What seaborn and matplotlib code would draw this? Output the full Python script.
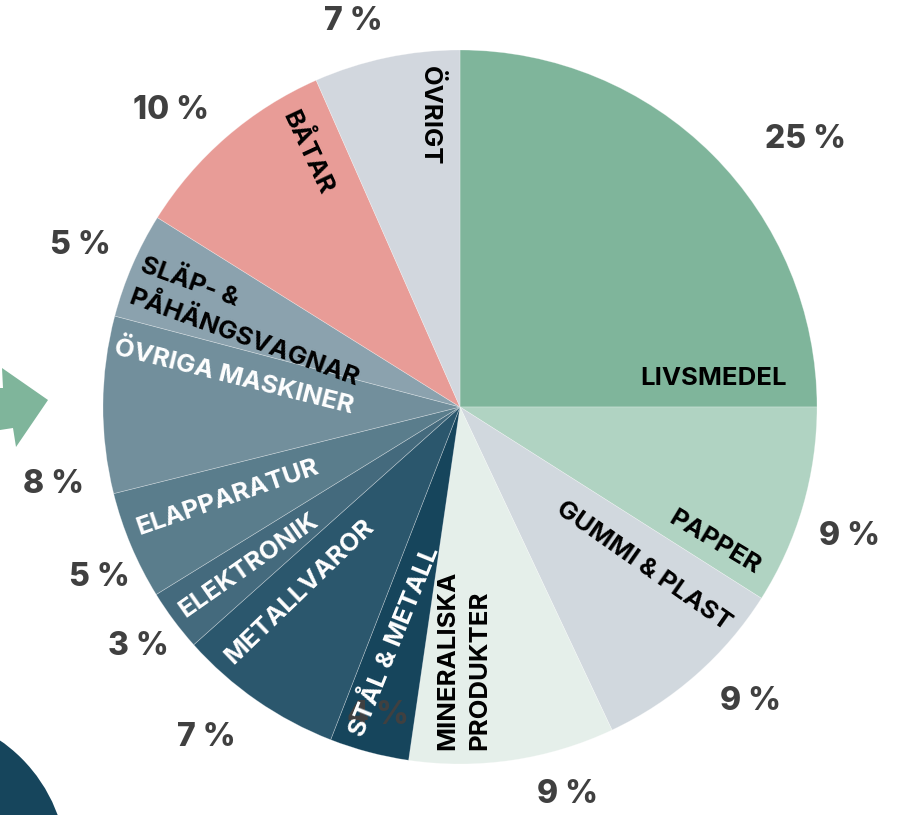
import numpy as np
import matplotlib.pyplot as plt
import matplotlib.patches as mpatches
import seaborn as sns

# data (share of total, in %)
branches = ['LIVSMEDEL', 'PAPPER', 'GUMMI & PLAST', 'MINERALISKA\nPRODUKTER',
            'STÅL & METALL', 'METALLVAROR', 'ELEKTRONIK', 'ELAPPARATUR',
            'ÖVRIGA MASKINER', 'SLÄP- &\nPÅHÄNGSVAGNAR', 'BÅTAR', 'ÖVRIGT']
shares = [25, 9.0, 9.0, 9.3, 3.6, 7.5, 2.8, 4.9, 8.0, 4.8, 9.5, 6.6]
shown_pct = [25, 9, 9, 9, 4, 7, 3, 5, 8, 5, 10, 7]

colors = ['#7fb59b', '#b0d3c2', '#d1d8de', '#e5efea', '#16455c', '#2b576d',
          '#446a7d', '#5a7d8c', '#728f9c', '#8ba2ae', '#e89c97', '#d2d7de']
text_colors = ['black', 'black', 'black', 'black', 'white', 'white',
               'white', 'white', 'white', 'black', 'black', 'black']

# label placement (fraction across wedge, radius fraction, rotation)
lab_f = [0.07, 0.13, 0.74, 0.27, 0.43, 0.27, 0.51, 0.41, 0.25, 0.58, 0.21, 0.25]
lab_r = [0.715, 0.807, 0.68, 0.71, 0.68, 0.687, 0.74, 0.70, 0.64, 0.635, 0.83, 0.82]
lab_rot = [0, -31, -35, 90, 68, 44, 35, 19, -14, -20, -65, -90]
pct_f = [0.42, 0.43, 0.60, 0.71, 0.49, 0.40, 0.49, 0.64, 0.885, 0.52, 0.60, 0.65]
pct_r = [1.224, 1.149, 1.159, 1.127, 0.893, 1.167, 1.123, 1.117, 1.16, 1.157, 1.161, 1.12]

W, H = 909, 815
cx, cy, R = 460, H - 407, 357

sns.set_theme(style='white')
plt.rcParams['font.family'] = ['Inter', 'DejaVu Sans']

fig = plt.figure(figsize=(W / 100, H / 100), dpi=100)
ax = fig.add_axes([0, 0, 1, 1])

wedges, _ = ax.pie(shares, colors=sns.color_palette(colors), startangle=90,
                   counterclock=False, center=(cx, cy), radius=R,
                   wedgeprops=dict(edgecolor=(1, 1, 1, 0.35), linewidth=0.5))

for i, w in enumerate(wedges):
    lo, hi = w.theta1, w.theta2
    th = np.radians(lo + lab_f[i] * (hi - lo))
    ax.text(cx + lab_r[i] * R * np.cos(th), cy + lab_r[i] * R * np.sin(th),
            branches[i], rotation=lab_rot[i], rotation_mode='anchor',
            ha='center', va='center', multialignment='left', linespacing=1.5,
            color=text_colors[i], fontsize=18.5, fontweight='bold', zorder=5)
    th = np.radians(lo + pct_f[i] * (hi - lo))
    ax.text(cx + pct_r[i] * R * np.cos(th), cy + pct_r[i] * R * np.sin(th),
            f'{shown_pct[i]} %', ha='center', va='center', color='#404040',
            fontsize=23, fontweight='heavy', zorder=4)

# decoration: green arrow on the left and dark circle bottom left
arrow = [(0, 388), (3, 388), (2, 368), (48, 400), (16, 447), (13, 428), (0, 430)]
ax.add_patch(mpatches.Polygon([(x, H - y) for x, y in arrow], closed=True,
                              color=colors[0], lw=0))
ax.add_patch(mpatches.Circle((-88, H - 868), 155, color=colors[4], lw=0))

ax.set_xlim(0, W)
ax.set_ylim(0, H)
ax.set_aspect('equal')
ax.axis('off')

fig.savefig('out.png', dpi=100, facecolor='white')
